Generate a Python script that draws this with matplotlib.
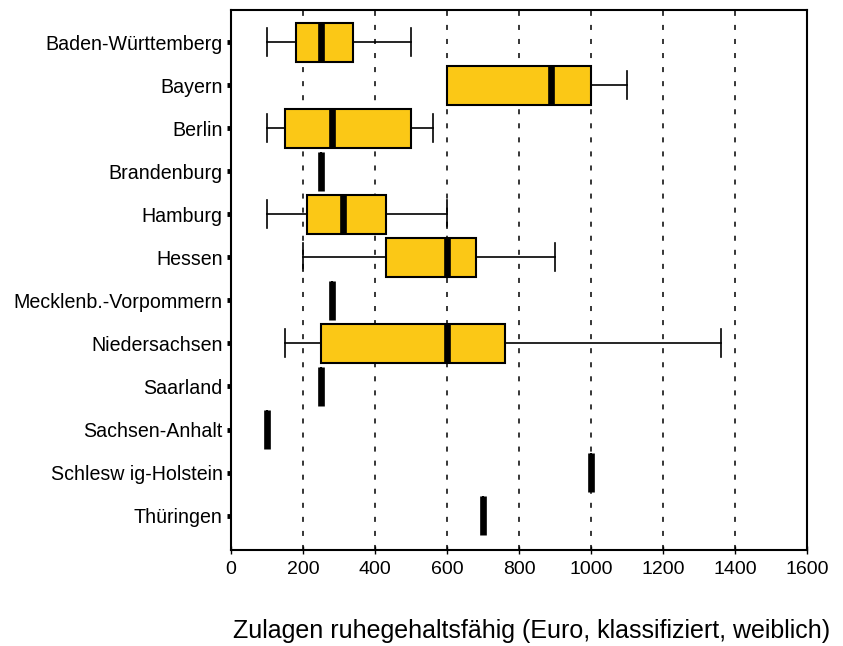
import numpy as np
import matplotlib
matplotlib.use("Agg")
import matplotlib.pyplot as plt

plt.rcParams['font.family'] = ['Liberation Sans', 'DejaVu Sans']

# Bundeslaender, top to bottom
laender = [
    "Baden-Württemberg", "Bayern", "Berlin", "Brandenburg", "Hamburg",
    "Hessen", "Mecklenb.-Vorpommern", "Niedersachsen", "Saarland",
    "Sachsen-Anhalt", "Schlesw ig-Holstein", "Thüringen",
]
# box statistics (Euro)
whislo = [100, 600, 100, 250, 100, 200, 280, 150, 250, 100, 1000, 700]
q1     = [180, 600, 150, 250, 210, 430, 280, 250, 250, 100, 1000, 700]
med    = [250, 890, 280, 250, 310, 600, 280, 600, 250, 100, 1000, 700]
q3     = [340, 1000, 500, 250, 430, 680, 280, 760, 250, 100, 1000, 700]
whishi = [500, 1100, 560, 250, 600, 900, 280, 1360, 250, 100, 1000, 700]

xticks = [0, 200, 400, 600, 800, 1000, 1200, 1400, 1600]

stats = []
for i, name in enumerate(laender):
    stats.append(dict(label=name, whislo=whislo[i], q1=q1[i], med=med[i],
                      q3=q3[i], whishi=whishi[i], fliers=[]))

fig = plt.figure(figsize=(8.43, 6.46), dpi=100)
ax = fig.add_axes([231/843, 1-550/646, 576/843, 540/646])

# dashed vertical grid lines
for x in xticks[1:-1]:
    ax.axvline(x, color="black", lw=1.1, linestyle=(0, (3.3, 5.9)), zorder=0)

pos = np.arange(len(laender))
ax.bxp(stats, positions=pos, widths=0.9, capwidths=0.65,
       orientation="horizontal", patch_artist=True, showfliers=False,
       boxprops=dict(facecolor="#FBC816", edgecolor="black", linewidth=1.5),
       whiskerprops=dict(color="black", linewidth=1.2),
       capprops=dict(color="black", linewidth=1.2),
       medianprops=dict(color="black", linewidth=4.8, solid_capstyle="butt"))

ax.set_xlim(0, 1600)
ax.set_ylim(11.8, -0.75)
ax.set_xticks(xticks)
ax.set_yticks(pos)
ax.set_yticklabels(laender)

ax.tick_params(axis="y", direction="out", length=3, width=3.5, pad=3,
               labelsize=14.1)
ax.tick_params(axis="x", direction="inout", length=6, width=1.0, pad=5,
               labelsize=14)
for s in ax.spines.values():
    s.set_linewidth(1.5)

ax.set_xlabel("Zulagen ruhegehaltsfähig (Euro, klassifiziert, weiblich)",
              fontsize=18, va="center")
ax.xaxis.set_label_coords((532-231)/576, -(631-550)/540)

fig.savefig("out.png", dpi=100)
